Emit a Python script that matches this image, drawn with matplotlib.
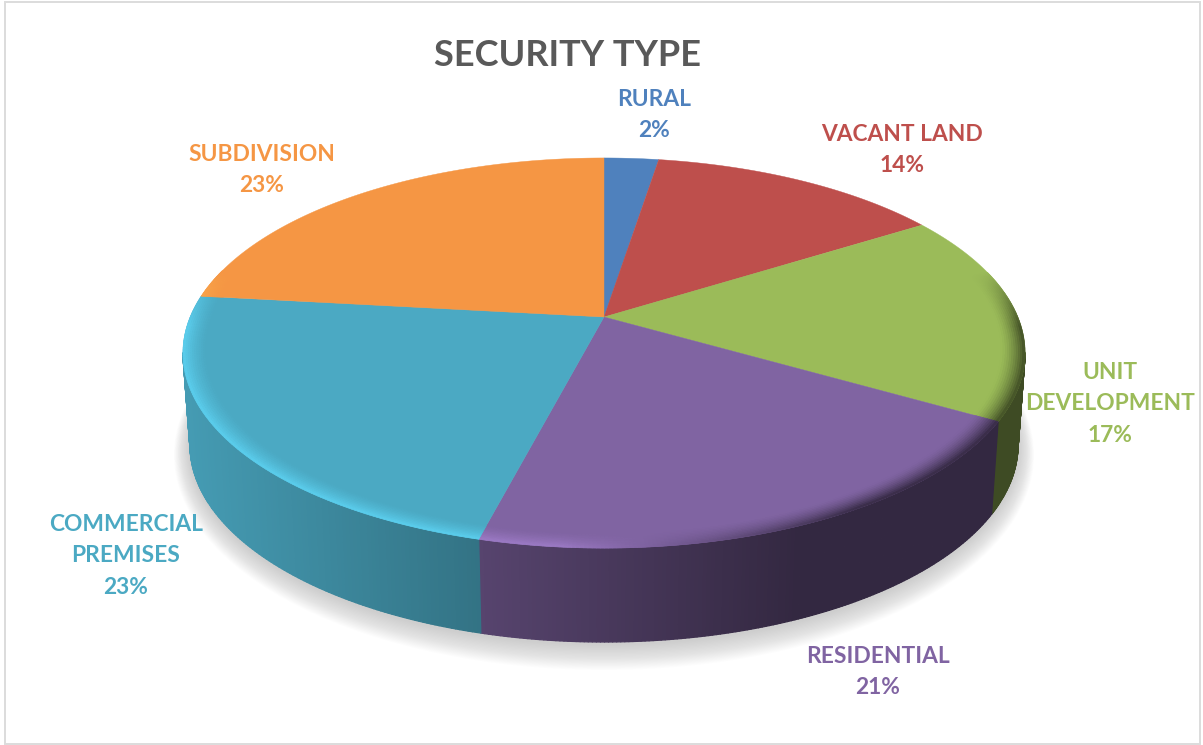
import numpy as np
import matplotlib
matplotlib.use("Agg")
import matplotlib.pyplot as plt
from matplotlib.collections import PolyCollection
from matplotlib.colors import to_rgb
from matplotlib.patches import Ellipse, Rectangle

# data
categories = ["RURAL", "VACANT LAND", "UNIT\nDEVELOPMENT", "RESIDENTIAL",
              "COMMERCIAL\nPREMISES", "SUBDIVISION"]
values = [2.5, 13.5, 17.4, 20.6, 22.8, 23.2]
colors = ["#4F81BD", "#BE4F4C", "#9BBB59", "#8064A2", "#4BA9C3", "#F59644"]

# label centres, in pixels
label_pos = [(654, 115), (902, 150), (1110, 404), (878, 672), (126, 556), (262, 170)]

plt.rcParams["font.family"] = ["Lato", "DejaVu Sans"]

fig = plt.figure(figsize=(12.03, 7.45), dpi=100)
ax = fig.add_axes([0, 0, 1, 1])
ax.set_xlim(0, 1203)
ax.set_ylim(745, 0)
ax.axis("off")

# frame
ax.add_patch(Rectangle((4.5, 2), 1195.5, 742, fill=False, ec="#dcdcdc", lw=1.4))

# projection of the pie disc: apex sits above the ellipse centre
apex_x, apex_y = 604, 317
persp = 0.1846
scale_y = 188.4
scale_x = 413.8


def project(angle, r=1.0):
    # angle in degrees, clockwise from the top
    a = np.radians(angle)
    u = r * np.sin(a)
    v = r * np.cos(a)
    den = 1 + persp * v
    return apex_x + scale_x * u / den, apex_y - scale_y * v / den


rim_cy = apex_y + 36
rim_rx, rim_ry = 421, 195
base_cy, base_rx, base_ry = 445, 414, 197


def to_base(x, y):
    t = np.arctan2((y - rim_cy) / rim_ry, (x - apex_x) / rim_rx)
    return apex_x + base_rx * np.cos(t), base_cy + base_ry * np.sin(t)


def wall_factor(x):
    return np.interp(x, [183, 480, 800, 1025], [0.92, 0.68, 0.40, 0.40])


# soft shadow under the pie
for k in range(20):
    grow = 1 - k / 20
    ax.add_patch(Ellipse((apex_x, base_cy + 8 * grow + 2), 2 * (base_rx + 16 * grow), 2 * (base_ry + 18 * grow),
                         fc="#808080", ec="none", alpha=0.02, zorder=1))

edges = np.cumsum([0] + values) / sum(values) * 360

# side walls
for i, col in enumerate(colors):
    rgb = np.array(to_rgb(col))
    angs = np.linspace(edges[i], edges[i + 1], 160)
    xs, ys = project(angs)
    bx, by = to_base(xs, ys)
    polys = []
    cols = []
    for j in range(len(angs) - 1):
        if ys[j] < rim_cy and ys[j + 1] < rim_cy:
            continue
        polys.append([(xs[j], ys[j]), (xs[j + 1], ys[j + 1]), (bx[j + 1], by[j + 1]), (bx[j], by[j])])
        cols.append(rgb * wall_factor(xs[j]))
    if polys:
        ax.add_collection(PolyCollection(polys, facecolors=cols, edgecolors=cols, linewidths=0.9, zorder=2))

# top of the pie
for i, col in enumerate(colors):
    angs = np.linspace(edges[i], edges[i + 1], 160)
    xs, ys = project(angs)
    ax.fill(np.r_[apex_x, xs], np.r_[apex_y, ys], color=col, lw=0.3, zorder=3)

# bevel along the rim
rings = np.linspace(0.945, 1.0, 12)
for i, col in enumerate(colors):
    rgb = np.array(to_rgb(col))
    angs = np.linspace(edges[i], edges[i + 1], 160)
    polys = []
    cols = []
    for k in range(len(rings) - 1):
        w = ((k + 0.5) / (len(rings) - 1)) ** 1.5
        x0, y0 = project(angs, rings[k])
        x1, y1 = project(angs, rings[k + 1])
        for j in range(len(angs) - 1):
            v = np.cos(np.radians(angs[j]))
            s = np.clip((0.25 - v) / 0.3, 0, 1)
            if s == 0:
                continue
            dark = np.clip((x1[j] - 560) / 300, 0, 1)
            edge = (1 - dark) * np.clip(rgb * 1.22, 0, 1) + dark * rgb * 0.42
            c = rgb * (1 - s * w) + edge * s * w
            polys.append([(x0[j], y0[j]), (x0[j + 1], y0[j + 1]), (x1[j + 1], y1[j + 1]), (x1[j], y1[j])])
            cols.append(c)
    if polys:
        ax.add_collection(PolyCollection(polys, facecolors=cols, edgecolors=cols, linewidths=0.5, zorder=4))

# labels
for name, val, col, pos in zip(categories, values, colors, label_pos):
    ax.text(pos[0], pos[1], f"{name}\n{val:.0f}%", color=col, fontsize=16.4, fontweight="bold",
            ha="center", va="center", linespacing=1.6, zorder=5)

ax.text(568, 56, "SECURITY TYPE", color="#595959", fontsize=26, fontweight="bold",
        ha="center", va="center", zorder=5)

fig.savefig("out.png", dpi=100)
